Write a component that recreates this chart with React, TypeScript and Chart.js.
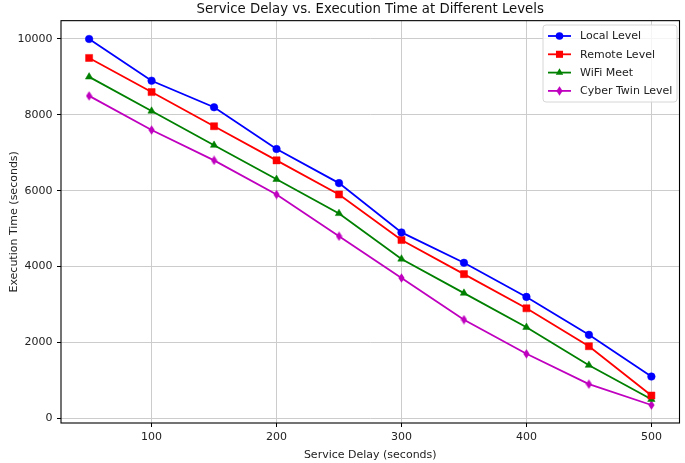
import React, { useEffect, useRef } from "react";
import { Chart, registerables } from "chart.js";
import { drawPoint } from "chart.js/helpers";

Chart.register(...registerables);

const serviceDelays = [50, 100, 150, 200, 250, 300, 350, 400, 450, 500];
const localLevel = [10000, 8900, 8200, 7100, 6200, 4900, 4100, 3200, 2200, 1100];
const remoteLevel = [9500, 8600, 7700, 6800, 5900, 4700, 3800, 2900, 1900, 600];
const wifiMeet = [9000, 8100, 7200, 6300, 5400, 4200, 3300, 2400, 1400, 500];
const cyberTwinLevel = [8500, 7600, 6800, 5900, 4800, 3700, 2600, 1700, 900, 350];
const xTicks = [100, 200, 300, 400, 500];
const yTicks = [0, 2000, 4000, 6000, 8000, 10000];
const seriesNames = ["Local Level", "Remote Level", "WiFi Meet", "Cyber Twin Level"];

const FONT = "'DejaVu Sans', sans-serif";

function makeThinDiamond(color: string): HTMLCanvasElement {
  const c = document.createElement("canvas");
  c.width = 7;
  c.height = 10;
  const g = c.getContext("2d")!;
  g.fillStyle = color;
  g.beginPath();
  g.moveTo(3.5, 0.3);
  g.lineTo(6.6, 5);
  g.lineTo(3.5, 9.7);
  g.lineTo(0.4, 5);
  g.closePath();
  g.fill();
  return c;
}

export default function App() {
  const ref = useRef<HTMLCanvasElement | null>(null);

  useEffect(() => {
    if (!ref.current) return;
    const diamond = makeThinDiamond("#bf00bf");
    const seriesValues = [localLevel, remoteLevel, wifiMeet, cyberTwinLevel];
    const colors = ["#0000ff", "#ff0000", "#008000", "#bf00bf"];
    const styles: any[] = ["circle", "rect", "triangle", diamond];
    const radii = [3.8, 5, 4.3, 4];

    const datasets = seriesValues.map((vals, i) => ({
      label: seriesNames[i],
      data: vals.map((v, j) => ({ x: serviceDelays[j], y: v })),
      borderColor: colors[i],
      backgroundColor: colors[i],
      borderWidth: 1.8,
      pointStyle: styles[i],
      pointRadius: radii[i],
      pointBorderWidth: 0.5,
      pointBorderColor: colors[i],
      pointBackgroundColor: colors[i],
      tension: 0,
    }));

    const framePlugin = {
      id: "frame",
      afterDatasetsDraw(chart: any) {
        const { ctx, chartArea: a } = chart;
        ctx.save();
        ctx.strokeStyle = "#000";
        ctx.lineWidth = 1.1;
        ctx.strokeRect(a.left, a.top, a.right - a.left, a.bottom - a.top);
        ctx.restore();
      },
    };

    const legendPlugin = {
      id: "innerLegend",
      afterDraw(chart: any) {
        const { ctx } = chart;
        const x0 = 543, y0 = 25, w = 134, h = 77, r = 3;
        ctx.save();
        ctx.globalAlpha = 0.8;
        ctx.fillStyle = "#ffffff";
        ctx.beginPath();
        ctx.roundRect(x0, y0, w, h, r);
        ctx.fill();
        ctx.globalAlpha = 1;
        ctx.strokeStyle = "#d6d6d6";
        ctx.lineWidth = 1;
        ctx.stroke();
        chart.data.datasets.forEach((ds: any, i: number) => {
          const y = 36 + i * 18.3;
          ctx.strokeStyle = ds.borderColor;
          ctx.lineWidth = 1.8;
          ctx.beginPath();
          ctx.moveTo(548, y);
          ctx.lineTo(571, y);
          ctx.stroke();
          ctx.fillStyle = ds.backgroundColor;
          drawPoint(ctx, { pointStyle: ds.pointStyle, radius: ds.pointRadius, rotation: 0, borderWidth: 0 }, 559.5, y);
          ctx.fillStyle = "#222";
          ctx.font = `11px ${FONT}`;
          ctx.textBaseline = "middle";
          ctx.textAlign = "left";
          ctx.fillText(ds.label, 580, y + 0.5);
        });
        ctx.restore();
      },
    };

    const chart = new Chart(ref.current, {
      type: "line",
      data: { datasets },
      plugins: [framePlugin, legendPlugin],
      options: {
        animation: false,
        responsive: false,
        maintainAspectRatio: false,
        layout: { padding: { left: 0, right: 2, top: 0, bottom: 0 } },
        font: { family: FONT },
        plugins: {
          legend: { display: false },
          tooltip: { enabled: false },
          title: {
            display: true,
            text: "Service Delay vs. Execution Time at Different Levels",
            fullSize: false,
            color: "#111",
            font: { family: FONT, size: 13.3, weight: "normal", lineHeight: 1.2 },
            padding: { top: 1.5, bottom: 3.2 },
          },
        },
        scales: {
          x: {
            type: "linear",
            min: 27.5,
            max: 522.5,
            afterBuildTicks: (s: any) => {
              s.ticks = xTicks.map((v) => ({ value: v }));
            },
            afterFit: (s: any) => {
              s.height = 40;
            },
            grid: { color: "#cccccc", lineWidth: 1, tickColor: "#000", tickLength: 4, drawTicks: true },
            border: { display: false },
            ticks: {
              color: "#222",
              font: { family: FONT, size: 11 },
              padding: 4,
              maxRotation: 0,
              autoSkip: false,
              callback: (v: any) => String(v),
            },
            title: {
              display: true,
              text: "Service Delay (seconds)",
              color: "#222",
              font: { family: FONT, size: 11 },
              padding: { top: 0, bottom: 1 },
            },
          },
          y: {
            type: "linear",
            min: -124,
            max: 10483,
            afterBuildTicks: (s: any) => {
              s.ticks = yTicks.map((v) => ({ value: v }));
            },
            afterFit: (s: any) => {
              s.width = 61;
            },
            grid: { color: "#cccccc", lineWidth: 1, tickColor: "#000", tickLength: 4, drawTicks: true },
            border: { display: false },
            ticks: {
              color: "#222",
              font: { family: FONT, size: 11 },
              padding: 4.5,
              autoSkip: false,
              callback: (v: any) => String(v),
            },
            title: {
              display: true,
              text: "Execution Time (seconds)",
              color: "#222",
              font: { family: FONT, size: 11 },
              padding: { top: 8, bottom: 0 },
            },
          },
        },
      } as any,
    });

    return () => chart.destroy();
  }, []);

  return (
    <div style={{ position: "absolute", left: 0, top: 0, width: 685, height: 463, background: "#fff" }}>
      <canvas ref={ref} width={685} height={463} style={{ display: "block", width: 685, height: 463 }} />
    </div>
  );
}
